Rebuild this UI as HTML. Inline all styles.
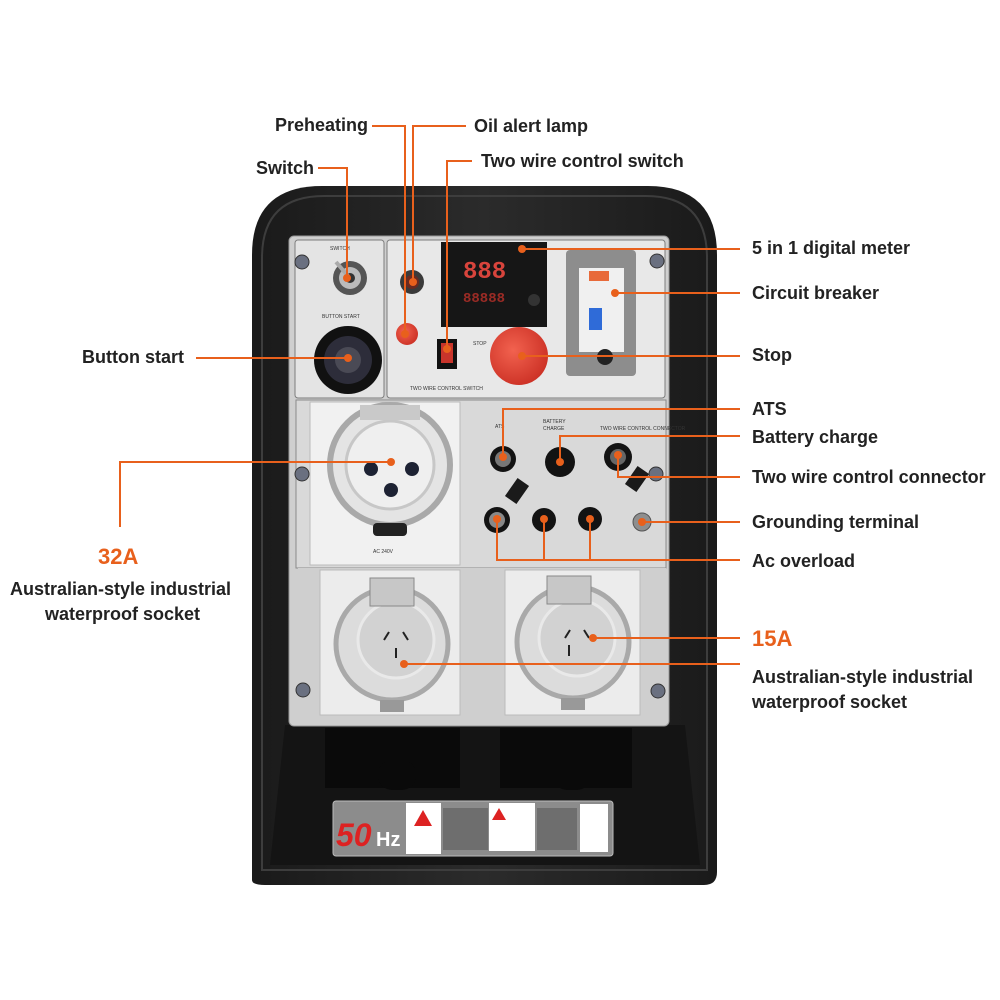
<!DOCTYPE html>
<html><head><meta charset="utf-8"><style>
html,body{margin:0;padding:0;background:#fff}
svg{display:block}
.l{font-family:"Liberation Sans",sans-serif;font-weight:bold;font-size:18px;fill:#222}
.o{font-family:"Liberation Sans",sans-serif;font-weight:bold;font-size:22px;fill:#e8601c}
.s{font-family:"Liberation Sans",sans-serif;font-size:5px;fill:#333}
</style></head><body>
<svg width="1000" height="1000" viewBox="0 0 1000 1000" xmlns="http://www.w3.org/2000/svg">
<defs>
<linearGradient id="hg" x1="0" y1="0" x2="1" y2="0">
<stop offset="0" stop-color="#1a1a1a"/><stop offset="0.5" stop-color="#2b2b2b"/><stop offset="1" stop-color="#1a1a1a"/>
</linearGradient>
<radialGradient id="red" cx="0.4" cy="0.4" r="0.7"><stop offset="0" stop-color="#f2624f"/><stop offset="1" stop-color="#c92d22"/></radialGradient>
</defs>
<path d="M252,880 L252,255 Q252,186 322,186 L648,186 Q717,186 717,255 L717,872 Q717,885 704,885 L265,885 Q252,885 252,880 Z" fill="url(#hg)"/>
<path d="M262,870 L262,258 Q262,196 324,196 L646,196 Q707,196 707,258 L707,870 Z" fill="none" stroke="#3d3d3d" stroke-width="2"/>
<path d="M285,725 L685,725 L700,865 L270,865 Z" fill="#141414"/>
<rect x="325" y="728" width="135" height="60" fill="#0a0a0a"/>
<rect x="500" y="728" width="132" height="60" fill="#0a0a0a"/>
<rect x="378" y="760" width="38" height="30" rx="14" fill="#0a0a0a"/>
<rect x="553" y="760" width="38" height="30" rx="14" fill="#0a0a0a"/>
<rect x="333" y="801" width="280" height="55" rx="3" fill="#8c8c8c" stroke="#bbb"/>
<text x="336" y="846" font-family="Liberation Sans,sans-serif" font-size="32" font-style="italic" font-weight="bold" fill="#d22">50</text>
<text x="376" y="846" font-family="Liberation Sans,sans-serif" font-size="20" font-weight="bold" fill="#fff">Hz</text>
<rect x="406" y="803" width="35" height="51" fill="#fff"/>
<polygon points="423,810 432,826 414,826" fill="#d22"/>
<rect x="443" y="808" width="45" height="42" fill="#6e6e6e"/>
<rect x="489" y="803" width="46" height="48" fill="#fff"/>
<polygon points="499,808 506,820 492,820" fill="#d22"/>
<rect x="537" y="808" width="40" height="42" fill="#6e6e6e"/>
<rect x="580" y="804" width="28" height="48" fill="#fff"/>
<rect x="289" y="236" width="380" height="490" rx="5" fill="#cfcfcf" stroke="#999"/>
<polygon points="470,400 520,400 470,715" fill="#e6e6e6" opacity="0.7"/>
<polygon points="480,715 530,400 560,400 510,715" fill="#bdbdbd" opacity="0.5"/>
<rect x="295" y="240" width="89" height="158" rx="3" fill="#e4e4e4" stroke="#7d7d7d"/>
<circle cx="350" cy="278" r="17" fill="#555"/><circle cx="350" cy="278" r="11" fill="#bbb"/><circle cx="350" cy="278" r="5" fill="#333"/>
<line x1="336" y1="262" x2="348" y2="276" stroke="#aaa" stroke-width="4"/>
<circle cx="348" cy="360" r="34" fill="#111"/><circle cx="348" cy="360" r="24" fill="#2d2d3a"/><circle cx="348" cy="360" r="13" fill="#4a4a55"/>
<text x="330" y="250" class="s">SWITCH</text><text x="322" y="318" class="s">BUTTON START</text>
<rect x="387" y="240" width="278" height="158" rx="3" fill="#e8e8e8" stroke="#7d7d7d"/>
<circle cx="412" cy="282" r="12" fill="#3a3a3a"/><circle cx="412" cy="282" r="7" fill="#6a2a20"/>
<circle cx="407" cy="334" r="11" fill="url(#red)"/>
<rect x="441" y="242" width="106" height="85" fill="#161616"/>
<text x="463" y="278" font-family="Liberation Mono,monospace" font-size="24" font-weight="bold" fill="#d8443c">888</text>
<text x="463" y="302" font-family="Liberation Mono,monospace" font-size="14" font-weight="bold" fill="#9a2b25">88888</text>
<circle cx="534" cy="300" r="6" fill="#333"/>
<rect x="437" y="339" width="20" height="30" fill="#111"/><rect x="441" y="343" width="12" height="20" fill="#c8342b"/>
<text x="410" y="390" class="s">TWO WIRE CONTROL SWITCH</text><text x="473" y="345" class="s">STOP</text>
<circle cx="519" cy="356" r="29" fill="url(#red)"/>
<rect x="566" y="250" width="70" height="126" rx="4" fill="#8d8d8d"/>
<rect x="579" y="268" width="45" height="84" fill="#f0f0f0"/>
<rect x="589" y="271" width="20" height="10" fill="#e86a3a"/>
<rect x="589" y="308" width="13" height="22" fill="#2f6bd8"/>
<circle cx="605" cy="357" r="8" fill="#222"/>
<rect x="296" y="400" width="370" height="168" fill="#d9d9d9" stroke="#8a8a8a"/>
<rect x="310" y="402" width="150" height="163" fill="#f1f1f1" stroke="#bbb"/>
<circle cx="390" cy="465" r="60" fill="#e4e4e4" stroke="#a9a9a9" stroke-width="6"/>
<circle cx="390" cy="465" r="44" fill="#efefef" stroke="#c7c7c7" stroke-width="3"/>
<circle cx="371" cy="469" r="7" fill="#1d2233"/><circle cx="412" cy="469" r="7" fill="#1d2233"/><circle cx="391" cy="490" r="7" fill="#1d2233"/>
<rect x="360" y="405" width="60" height="15" fill="#c9c9c9"/>
<rect x="373" y="523" width="34" height="13" rx="4" fill="#222"/>
<text x="373" y="553" class="s">AC 240V</text>
<g fill="#131313">
<circle cx="503" cy="459" r="13"/><circle cx="560" cy="462" r="15"/><circle cx="618" cy="457" r="14"/>
<circle cx="497" cy="520" r="13"/><circle cx="544" cy="520" r="12"/><circle cx="590" cy="519" r="12"/>
</g>
<circle cx="503" cy="459" r="8" fill="#777"/><circle cx="618" cy="457" r="8" fill="#666"/><circle cx="497" cy="520" r="8" fill="#888"/>
<rect x="510" y="480" width="14" height="22" fill="#1a1a1a" transform="rotate(35 517 491)"/>
<rect x="630" y="468" width="14" height="22" fill="#1a1a1a" transform="rotate(35 637 479)"/>
<circle cx="642" cy="522" r="9" fill="#8e8e8e" stroke="#555"/>
<text x="495" y="428" class="s">ATS</text><text x="543" y="423" class="s">BATTERY</text><text x="543" y="430" class="s">CHARGE</text><text x="600" y="430" class="s">TWO WIRE CONTROL CONNECTOR</text>
<rect x="298" y="568" width="368" height="150" fill="#cfcfcf"/>
<rect x="320" y="570" width="140" height="145" fill="#ececec" stroke="#bbb"/>
<rect x="505" y="570" width="135" height="145" fill="#ececec" stroke="#bbb"/>
<g>
<circle cx="392" cy="644" r="56" fill="#dcdcdc" stroke="#a9a9a9" stroke-width="5"/>
<circle cx="396" cy="640" r="38" fill="#d2d2d2" stroke="#e9e9e9" stroke-width="3"/>
<rect x="370" y="578" width="44" height="28" fill="#c7c7c7" stroke="#888"/>
<rect x="380" y="700" width="24" height="12" fill="#999"/>
<line x1="389" y1="632" x2="384" y2="640" stroke="#222" stroke-width="2"/><line x1="403" y1="632" x2="408" y2="640" stroke="#222" stroke-width="2"/><line x1="396" y1="648" x2="396" y2="658" stroke="#222" stroke-width="2"/>
</g>
<g>
<circle cx="573" cy="642" r="56" fill="#dcdcdc" stroke="#a9a9a9" stroke-width="5"/>
<circle cx="577" cy="638" r="38" fill="#d2d2d2" stroke="#e9e9e9" stroke-width="3"/>
<rect x="547" y="576" width="44" height="28" fill="#c7c7c7" stroke="#888"/>
<rect x="561" y="698" width="24" height="12" fill="#999"/>
<line x1="570" y1="630" x2="565" y2="638" stroke="#222" stroke-width="2"/><line x1="584" y1="630" x2="589" y2="638" stroke="#222" stroke-width="2"/><line x1="569" y1="645" x2="569" y2="656" stroke="#222" stroke-width="2"/>
</g>
<g fill="#6a7080" stroke="#333">
<circle cx="302" cy="262" r="7"/><circle cx="657" cy="261" r="7"/><circle cx="302" cy="474" r="7"/><circle cx="656" cy="474" r="7"/><circle cx="303" cy="690" r="7"/><circle cx="658" cy="691" r="7"/>
</g>
<g stroke="#e8601c" stroke-width="2" fill="none">
<polyline points="372,126 405,126 405,334"/>
<polyline points="466,126 413,126 413,282"/>
<polyline points="472,161 447,161 447,349"/>
<polyline points="318,168 347,168 347,278"/>
<polyline points="196,358 348,358"/>
<polyline points="522,249 740,249"/>
<polyline points="615,293 740,293"/>
<polyline points="522,356 740,356"/>
<polyline points="503,457 503,409 740,409"/>
<polyline points="560,462 560,436 740,436"/>
<polyline points="618,455 618,477 740,477"/>
<polyline points="642,522 740,522"/>
<polyline points="497,519 497,560 740,560"/>
<polyline points="544,519 544,560"/>
<polyline points="590,519 590,560"/>
<polyline points="391,462 120,462 120,527"/>
<polyline points="593,638 740,638"/>
<polyline points="404,664 740,664"/>
</g>
<g fill="#e8601c">
<circle cx="405" cy="334" r="4"/><circle cx="413" cy="282" r="4"/><circle cx="447" cy="349" r="4"/><circle cx="347" cy="278" r="4"/><circle cx="348" cy="358" r="4"/>
<circle cx="522" cy="249" r="4"/><circle cx="615" cy="293" r="4"/><circle cx="522" cy="356" r="4"/><circle cx="503" cy="457" r="4"/><circle cx="560" cy="462" r="4"/>
<circle cx="618" cy="455" r="4"/><circle cx="642" cy="522" r="4"/><circle cx="497" cy="519" r="4"/><circle cx="544" cy="519" r="4"/><circle cx="590" cy="519" r="4"/>
<circle cx="391" cy="462" r="4"/><circle cx="593" cy="638" r="4"/><circle cx="404" cy="664" r="4"/>
</g>
<text x="275" y="131" class="l">Preheating</text>
<text x="474" y="132" class="l">Oil alert lamp</text>
<text x="481" y="167" class="l">Two wire control switch</text>
<text x="256" y="174" class="l">Switch</text>
<text x="82" y="363" class="l">Button start</text>
<text x="752" y="254" class="l">5 in 1 digital meter</text>
<text x="752" y="299" class="l">Circuit breaker</text>
<text x="752" y="361" class="l">Stop</text>
<text x="752" y="415" class="l">ATS</text>
<text x="752" y="443" class="l">Battery charge</text>
<text x="752" y="483" class="l">Two wire control connector</text>
<text x="752" y="528" class="l">Grounding terminal</text>
<text x="752" y="567" class="l">Ac overload</text>
<text x="98" y="564" class="o">32A</text>
<text x="10" y="595" class="l">Australian-style industrial</text>
<text x="45" y="620" class="l">waterproof socket</text>
<text x="752" y="646" class="o">15A</text>
<text x="752" y="683" class="l">Australian-style industrial</text>
<text x="752" y="708" class="l">waterproof socket</text>
</svg>
</body></html>
